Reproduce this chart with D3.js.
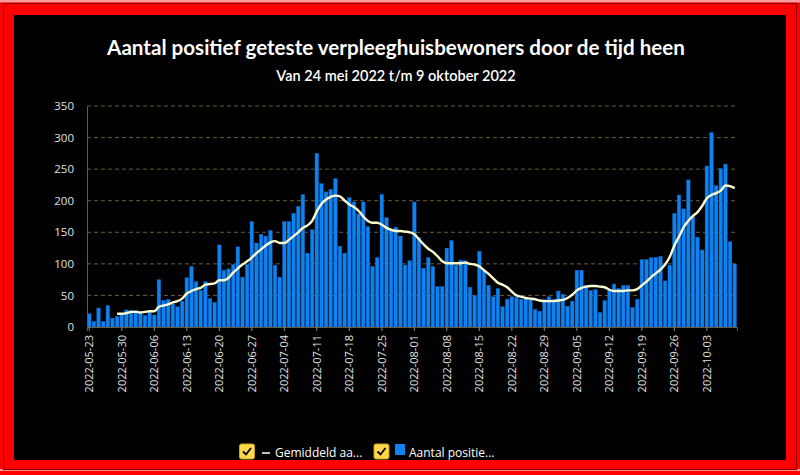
<!DOCTYPE html>
<html><head><meta charset="utf-8">
<script src="https://cdn.jsdelivr.net/npm/d3@7"></script>
<style>html,body{margin:0;padding:0;background:#000;}svg{display:block;}</style>
</head><body>
<svg id="chart" width="800" height="475"></svg>
<script>
const title = "Aantal positief geteste verpleeghuisbewoners door de tijd heen";
const subtitle = "Van 24 mei 2022 t/m 9 oktober 2022";
const startDate = "2022-05-23";
const dayCount = 140;
const yTicks = [0, 50, 100, 150, 200, 250, 300, 350];
const legendLabels = ["Gemiddeld aa...", "Aantal positie..."];

const barValues = [
  21,9,30,9,34,14,17,21,27,26,
  26,22,18,23,19,75,42,44,37,32,
  41,78,96,72,58,72,45,39,130,90,
  92,99,127,79,99,167,133,147,144,153,
  98,79,167,167,180,191,210,117,154,275,
  227,214,218,235,128,117,205,198,179,198,
  159,96,110,210,173,153,158,144,98,105,
  198,142,93,110,96,64,64,125,137,98,
  106,105,63,50,120,90,66,48,61,32,
  44,48,47,44,45,44,28,25,44,48,
  44,57,52,33,41,90,90,66,58,59,
  23,42,58,68,61,66,66,31,44,107,
  107,110,110,112,73,98,180,209,187,233,
  175,142,122,255,308,224,251,258,135,100
];
const avgValues = [
  null,null,null,null,null,null,21,21,22,24,
  24,23,24,25,25,32,34,36,39,41,
  45,53,57,60,62,67,68,69,74,74,
  78,86,93,99,104,110,117,123,129,134,
  136,133,133,138,144,150,157,161,168,183,
  195,202,206,208,207,200,194,190,184,175,
  168,165,165,162,157,154,152,152,151,150,
  147,139,131,124,119,112,104,101,101,101,
  101,102,100,99,96,90,84,77,70,67,
  63,56,50,48,46,45,44,42,41,41,
  41,42,43,46,51,58,62,64,65,65,
  64,63,59,57,57,57,58,58,60,66,
  72,79,85,91,99,111,129,143,158,168,
  176,182,192,204,209,212,216,224,223,220
];

const fmt = d3.timeFormat("%Y-%m-%d");
const parse = d3.timeParse("%Y-%m-%d");
const d0 = parse(startDate);
const dates = d3.timeDay.range(d0, d3.timeDay.offset(d0, dayCount)).map(fmt);
const tickDates = dates.filter((d, i) => i % 7 === 0);

const svg = d3.select("#chart");
const W = 800, H = 475;

// frame
svg.append("rect").attr("width", W).attr("height", H).attr("fill", "#ff0000");
svg.append("rect").attr("x", 0).attr("y", 0).attr("width", W).attr("height", 2.5).attr("fill", "#ff9a9a");
svg.append("rect").attr("x", 0).attr("y", 469).attr("width", W).attr("height", 2).attr("fill", "#ff9a9a");
svg.append("rect").attr("x", 3.5).attr("y", 3.5).attr("width", W - 7).attr("height", H - 9).attr("fill", "none").attr("stroke", "#8a0000").attr("stroke-width", 1.2);
svg.append("rect").attr("x", 14).attr("y", 15).attr("width", 772).attr("height", 445).attr("fill", "#000");

// titles
svg.append("text").attr("x", 396).attr("y", 55).attr("text-anchor", "middle")
  .attr("fill", "#fff").attr("font-family", "Lato, 'Open Sans', sans-serif")
  .attr("font-weight", "bold").attr("font-size", 20.6).text(title);
svg.append("text").attr("x", 396).attr("y", 81).attr("text-anchor", "middle")
  .attr("fill", "#fff").attr("font-family", "Lato, 'Open Sans', sans-serif")
  .attr("font-weight", 600).attr("font-size", 14.5).text(subtitle);

const pL = 87, pR = 737, pT = 106, pB = 327;
const x = d3.scaleBand().domain(dates).range([pL, pR]).paddingInner(0.22).paddingOuter(0.1);
const y = d3.scaleLinear().domain([0, 350]).range([pB, pT]);

// grid
const gridColor = "#6e5a3e";
svg.append("g").selectAll("line").data(yTicks.filter(v => v > 0)).join("line")
  .attr("x1", pL).attr("x2", pR).attr("y1", d => y(d)).attr("y2", d => y(d))
  .attr("stroke", gridColor).attr("stroke-width", 1).attr("stroke-dasharray", "4,3");

// y axis
const yAxis = svg.append("g").attr("transform", `translate(${pL},0)`)
  .call(d3.axisLeft(y).tickValues(yTicks).tickSize(0).tickPadding(13));
yAxis.select(".domain").attr("stroke", gridColor);
yAxis.selectAll("text").attr("fill", "#e0e0e0").attr("font-family", "'Open Sans', sans-serif").attr("font-size", 11.5);

// bars
svg.append("g").selectAll("rect").data(barValues).join("rect")
  .attr("x", (d, i) => x(dates[i])).attr("width", x.bandwidth())
  .attr("y", d => y(d)).attr("height", d => y(0) - y(d))
  .attr("fill", "#0f82f2").attr("stroke", "#0a5fb8").attr("stroke-width", 0.4);

// x axis
const xAxis = svg.append("g").attr("transform", `translate(0,${pB})`)
  .call(d3.axisBottom(x).tickValues(tickDates).tickSize(4).tickPadding(6));
xAxis.select(".domain").attr("stroke", gridColor);
xAxis.selectAll(".tick line").attr("stroke", "#a08050");
xAxis.selectAll(".tick text").attr("fill", "#e0e0e0").attr("font-family", "'Open Sans', sans-serif")
  .attr("font-size", 11).attr("text-anchor", "end")
  .attr("x", 0).attr("y", 0).attr("dx", 0).attr("dy", "0.35em")
  .attr("transform", "rotate(-90) translate(-8,0)");

// line
const line = d3.line().defined(d => d != null)
  .x((d, i) => x(dates[i]) + x.bandwidth() / 2).y(d => y(d)).curve(d3.curveMonotoneX);
svg.append("path").datum(avgValues).attr("d", line)
  .attr("fill", "none").attr("stroke", "#fbfccf").attr("stroke-width", 2.4);

// legend
const lg = svg.append("g").attr("font-family", "'Open Sans', sans-serif").attr("font-size", 12).attr("fill", "#fff");
function checkbox(cx) {
  lg.append("rect").attr("x", cx).attr("y", 444).attr("width", 15).attr("height", 15).attr("rx", 2)
    .attr("fill", "#ffd84a").attr("stroke", "#c9a21c").attr("stroke-width", 1);
  lg.append("path").attr("d", `M${cx+3.5},${451.5} L${cx+6.5},${454.5} L${cx+11.5},${448}`)
    .attr("fill", "none").attr("stroke", "#000").attr("stroke-width", 1.8);
}
checkbox(239.5);
lg.append("line").attr("x1", 262).attr("x2", 270).attr("y1", 453).attr("y2", 453).attr("stroke", "#fff").attr("stroke-width", 1.5);
lg.append("text").attr("x", 275).attr("y", 456.5).text(legendLabels[0]);
checkbox(374);
lg.append("rect").attr("x", 395).attr("y", 444).attr("width", 10).attr("height", 11).attr("fill", "#0f82f2");
lg.append("text").attr("x", 409).attr("y", 456.5).text(legendLabels[1]);
</script>
</body></html>
